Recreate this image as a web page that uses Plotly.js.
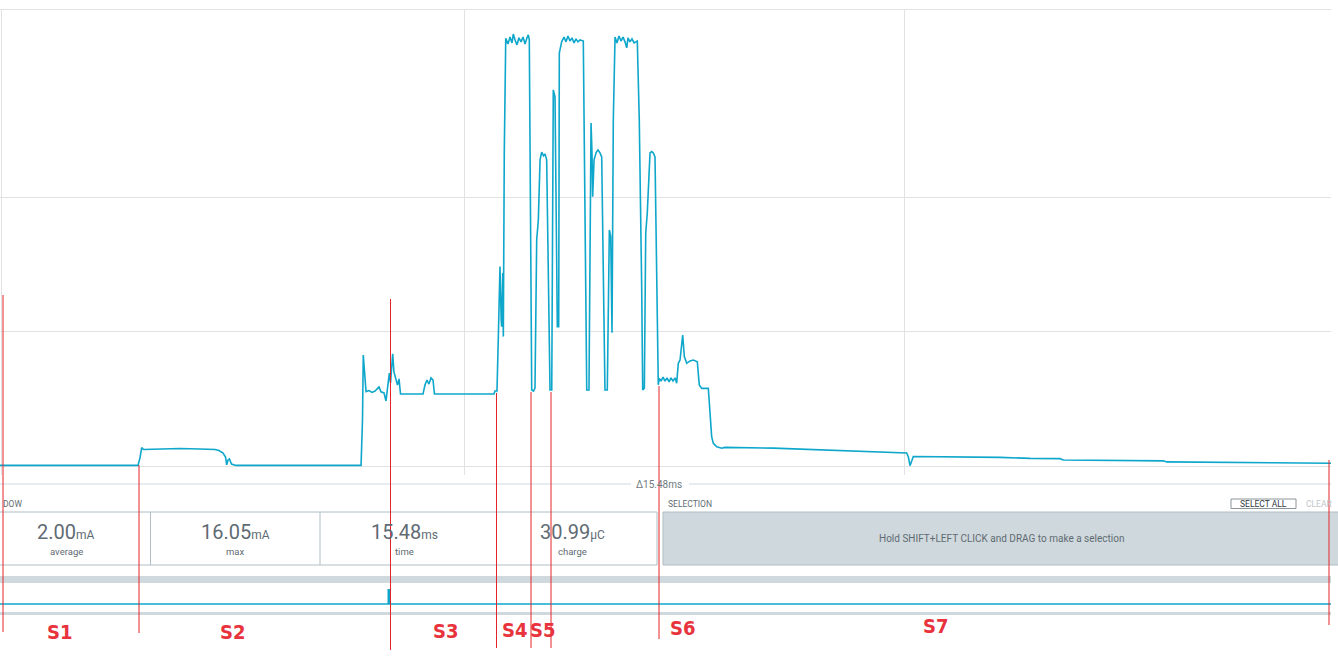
<!DOCTYPE html>
<html>
<head>
<meta charset="utf-8">
<script src="https://cdn.plot.ly/plotly-3.0.1.min.js"></script>
<style>
html,body{margin:0;padding:0;background:#fff;}
#chart{width:1338px;height:662px;}
</style>
</head>
<body>
<div id="chart"></div>
<script>
// ---- data (time in ms, current in mA) ----
const timeMs = [
  0.000, 1.605, 1.628, 1.648, 1.669, 1.861, 2.094, 2.326, 2.501, 2.547, 2.594, 2.623, 2.637, 2.652, 2.669, 2.692, 2.745,
  4.199, 4.216, 4.225, 4.239, 4.257, 4.292, 4.327, 4.362, 4.408, 4.431, 4.466, 4.489, 4.507, 4.528, 4.542, 4.567, 4.582,
  4.606, 4.623, 4.641, 4.658, 4.920, 4.943, 4.966, 4.989, 5.013, 5.036, 5.053, 5.745, 5.757, 5.780,
  5.796, 5.815, 5.829, 5.835, 5.847, 5.854, 5.865, 5.882, 5.908, 5.932, 5.955, 5.970, 5.990, 6.013, 6.036, 6.060,
  6.083, 6.106, 6.129, 6.145, 6.156, 6.164, 6.184, 6.205, 6.222, 6.242, 6.261, 6.281, 6.300, 6.321, 6.339, 6.358,
  6.377, 6.397, 6.417, 6.428, 6.435, 6.455, 6.467, 6.482, 6.498, 6.505, 6.533, 6.560, 6.583, 6.606, 6.629, 6.653,
  6.676, 6.699, 6.722, 6.746, 6.784, 6.792, 6.804, 6.824, 6.850, 6.862, 6.874, 6.885, 6.893, 6.909, 6.932, 6.955,
  6.978, 6.998, 7.017, 7.036, 7.063, 7.087, 7.103, 7.118, 7.133, 7.153, 7.176, 7.199, 7.223, 7.246, 7.269, 7.289,
  7.304, 7.327, 7.350, 7.374, 7.412, 7.435, 7.463, 7.475, 7.494, 7.510, 7.528, 7.560, 7.580, 7.598, 7.618, 7.638,
  7.656, 7.668, 7.688, 7.711, 7.734, 7.758, 7.781, 7.804, 7.827, 7.851, 7.870, 7.889, 7.909, 7.940, 7.959, 7.987,
  8.025, 8.064, 8.110, 8.133, 8.161, 8.238, 8.258, 8.277, 8.296, 8.336, 8.394, 8.432, 8.994, 9.305, 9.770, 10.157,
  10.545, 10.564, 10.584, 10.622, 11.631, 11.980, 12.328, 12.367, 13.530, 13.569, 15.120, 15.158, 15.480
];
const currentMa = [
  0.04, 0.04, 0.32, 0.70, 0.63, 0.65, 0.67, 0.65, 0.63, 0.59, 0.50, 0.35, 0.06, 0.24, 0.28, 0.09, 0.04,
  0.04, 1.73, 4.14, 3.39, 2.78, 2.82, 2.75, 2.80, 2.95, 2.77, 2.73, 2.43, 2.84, 3.47, 3.10, 4.18, 3.51,
  3.21, 3.02, 3.25, 2.69, 2.69, 3.03, 3.21, 3.06, 3.29, 3.21, 2.69, 2.69, 2.80, 2.80,
  4.82, 7.42, 5.44, 5.19, 7.18, 4.82, 11.64, 15.89, 15.68, 15.94, 15.72, 16.05, 15.83, 15.65, 15.91, 15.76,
  15.94, 15.68, 15.91, 16.02, 15.83, 11.64, 2.84, 2.80, 2.91, 8.41, 9.15, 11.38, 11.67, 11.53, 11.60, 11.38,
  6.67, 2.84, 2.84, 9.15, 13.98, 13.72, 10.39, 5.19, 5.19, 15.34, 15.77, 15.94, 15.76, 15.98, 15.79, 15.91,
  15.72, 15.87, 15.76, 15.83, 15.79, 12.49, 10.39, 2.84, 2.84, 10.39, 12.75, 11.64, 10.01, 11.38, 11.64, 11.75,
  11.64, 11.49, 7.93, 2.84, 2.84, 8.78, 8.53, 4.96, 12.86, 15.94, 15.72, 15.98, 15.79, 15.94, 15.76, 15.54,
  15.91, 15.76, 15.87, 15.72, 15.79, 12.86, 6.67, 2.84, 2.91, 8.66, 9.41, 11.64, 11.69, 11.64, 11.49, 7.29,
  3.03, 3.27, 3.17, 3.32, 3.17, 3.29, 3.14, 3.29, 3.17, 3.29, 3.09, 3.83, 3.95, 4.88, 4.08, 3.83,
  3.92, 3.95, 3.89, 3.03, 2.90, 2.90, 1.97, 1.11, 0.86, 0.73, 0.68, 0.71, 0.68, 0.64, 0.59, 0.55,
  0.50, 0.36, 0.03, 0.37, 0.34, 0.30, 0.29, 0.24, 0.21, 0.17, 0.14, 0.12, 0.12
];
const gridTimesMs = [0.012, 5.408, 10.514];
const gridCurrentMa = [0, 5, 10];
const windowLabel = "\u039415.48ms";
const statValues = ["2.00", "16.05", "15.48", "30.99"];
const statUnits = ["mA", "mA", "ms", "\u00b5C"];
const statNames = ["average", "max", "time", "charge"];
const sectionLabels = ["S1", "S2", "S3", "S4", "S5", "S6", "S7"];

// ---- layout helpers (pixel -> paper) ----
const W = 1331, PB = 475, PH = 466;
const px = x => x / W;
const py = y => (PB - y) / PH;
const FONT = "Roboto, 'Open Sans', Arial, sans-serif";
const RED = "#e3242b";
const TEAL = "#0ea7cb";

const shapes = [];
const annotations = [];
function rect(x0, y0, x1, y1, fill, line, lw) {
  shapes.push({type: "rect", xref: "paper", yref: "paper", x0: px(x0), x1: px(x1), y0: py(y1), y1: py(y0),
    fillcolor: fill, line: {color: line || fill, width: lw === undefined ? 0 : lw}, layer: "above"});
}
function hline(x0, x1, y, color, w) {
  shapes.push({type: "line", xref: "paper", yref: "paper", x0: px(x0), x1: px(x1), y0: py(y), y1: py(y),
    line: {color: color, width: w}, layer: "above"});
}
function vline(x, y0, y1, color, w) {
  shapes.push({type: "line", xref: "paper", yref: "paper", x0: px(x), x1: px(x), y0: py(y0), y1: py(y1),
    line: {color: color, width: w}, layer: "above"});
}
function text(t, x, y, size, color, anchor, extra) {
  annotations.push(Object.assign({text: t, xref: "paper", yref: "paper", x: px(x), y: py(y), showarrow: false,
    xanchor: anchor || "center", yanchor: "middle", font: {family: FONT, size: size, color: color}}, extra || {}));
}

// top border of plot
hline(0, W, 9.5, "#e2e2e2", 1);

// window span line + label
hline(-10, 631, 484, "#cfd8dc", 1);
hline(689, W, 484, "#cfd8dc", 1);
text(windowLabel, 659, 484, 10, "#707a80");

// WINDOW panel (left part cropped in the reference: only "DOW" is visible)
text("DOW", 1, 504, 8.5, "#5f6b73", "left");
rect(-19, 512, 657, 565, "#ffffff", "#b0bec5", 1);
vline(150.5, 512, 565, "#b0bec5", 1);
vline(320, 512, 565, "#b0bec5", 1);
const statCenters = [66, 235, 404, 572];
for (let i = 0; i < statValues.length; i++) {
  text(statValues[i] + "<span style='font-size:12px'>" + statUnits[i] + "</span>", statCenters[i], 532, 20, "#5f6b73");
  text(statNames[i], statCenters[i], 551, 9.5, "#5f6b73");
}

// SELECTION panel
text("SELECTION", 666, 504, 8.5, "#5f6b73", "left");
rect(1231, 499, 1296, 508.5, "#ffffff", "#8a949a", 1);
text("SELECT ALL", 1263.5, 504, 8.5, "#333a3f");
text("CLEAR", 1304, 504, 8.5, "#c0c6ca", "left");
rect(663, 512, 1345, 565, "#cfd8dc", "#b0bec5", 1);
text("Hold SHIFT+LEFT CLICK and DRAG to make a selection", 1001, 538, 10, "#5f6b73");

// bottom overview strip
rect(-5, 576, 1331, 583, "#cfd8dc");
rect(-5, 612, 1331, 615, "#cfd8dc");
hline(-5, 1331, 604, TEAL, 1.5);
rect(387.5, 589, 390, 604, TEAL);

// red section markers
const redLines = [[3, 295, 632], [139, 465, 633], [390.5, 299, 650], [496.5, 393, 648],
                  [531, 392, 648], [551, 392, 648], [659, 386, 639], [1329, 460, 625]];
redLines.forEach(l => vline(l[0], l[1], l[2], RED, 1));
const labelPos = [[59, 632], [232, 632], [445, 631], [514, 630], [542, 630], [682, 628], [935, 626]];
sectionLabels.forEach((s, i) => {
  annotations.push({text: "<b>" + s + "</b>", xref: "paper", yref: "paper", x: px(labelPos[i][0]), y: py(labelPos[i][1]),
    showarrow: false, xanchor: "center", yanchor: "middle",
    font: {family: "'Liberation Sans Narrow', 'DejaVu Sans Condensed', Arial, sans-serif", size: 20, color: "#e8333c"}});
});

const trace = {
  x: timeMs, y: currentMa, type: "scatter", mode: "lines",
  line: {color: TEAL, width: 1.6, shape: "linear"}, hoverinfo: "skip"
};

const layout = {
  width: 1338, height: 662,
  margin: {l: 0, r: 7, t: 9, b: 187, pad: 0},
  paper_bgcolor: "#ffffff", plot_bgcolor: "#ffffff",
  showlegend: false,
  xaxis: {range: [0, 15.48], tickmode: "array", tickvals: gridTimesMs, showticklabels: false, ticks: "",
          showgrid: true, gridcolor: "#e2e2e2", gridwidth: 1, zeroline: false, showline: false, fixedrange: true},
  yaxis: {range: [-0.316, 16.98], tickmode: "array", tickvals: gridCurrentMa, showticklabels: false, ticks: "",
          showgrid: true, gridcolor: "#e2e2e2", gridwidth: 1, zeroline: false, showline: false, fixedrange: true},
  shapes: shapes,
  annotations: annotations
};

Plotly.newPlot("chart", [trace], layout, {displayModeBar: false, staticPlot: true});
</script>
</body>
</html>
